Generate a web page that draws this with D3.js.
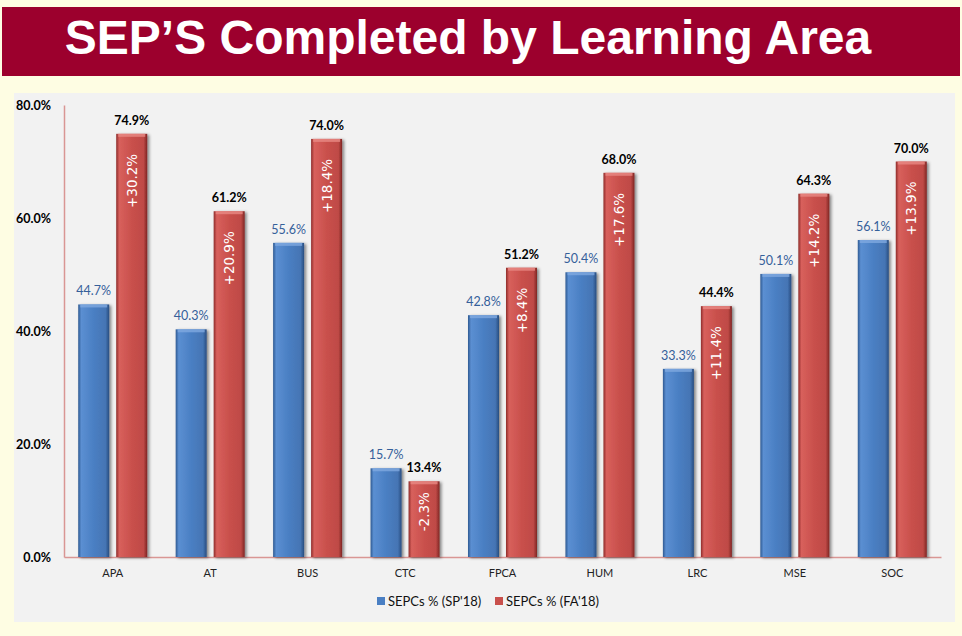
<!DOCTYPE html>
<html>
<head>
<meta charset="utf-8">
<script src="https://cdn.jsdelivr.net/npm/d3@7"></script>
<style>
  body { margin: 0; background: #fefde3; }
  svg { display: block; }
</style>
</head>
<body>
<svg id="main-svg" width="962" height="636"></svg>
<script>
var categories = ["APA", "AT", "BUS", "CTC", "FPCA", "HUM", "LRC", "MSE", "SOC"];
var sp18 = [44.7, 40.3, 55.6, 15.7, 42.8, 50.4, 33.3, 50.1, 56.1];
var fa18 = [74.9, 61.2, 74.0, 13.4, 51.2, 68.0, 44.4, 64.3, 70.0];
var change = ["+30.2%", "+20.9%", "+18.4%", "-2.3%", "+8.4%", "+17.6%", "+11.4%", "+14.2%", "+13.9%"];
var yTicks = [0, 20, 40, 60, 80];
var seriesNames = ["SEPCs % (SP'18)", "SEPCs % (FA'18)"];

var svg = d3.select("#main-svg");
var font = "Lato, 'Open Sans', sans-serif";

// page background + title bar
svg.append("rect").attr("width", 962).attr("height", 636).attr("fill", "#fefde3");
svg.append("rect").attr("x", 2).attr("y", 7).attr("width", 958).attr("height", 69).attr("fill", "#9c002d");
svg.append("text")
   .attr("x", 468).attr("y", 54)
   .attr("text-anchor", "middle")
   .style("font-family", "'Liberation Sans', Arial, sans-serif")
   .style("font-weight", "bold")
   .style("font-size", "48px")
   .style("fill", "#fff")
   .text("SEP\u2019S Completed by Learning Area");

// chart panel
svg.append("rect").attr("x", 14).attr("y", 93).attr("width", 941).attr("height", 529).attr("fill", "#f2f2f2");

var defs = svg.append("defs");
function grad(id, stops) {
  var g = defs.append("linearGradient").attr("id", id).attr("x1", "0").attr("x2", "1").attr("y1", "0").attr("y2", "0");
  stops.forEach(function(s){ g.append("stop").attr("offset", s[0]).attr("stop-color", s[1]); });
}
grad("gBlue", [["0", "#2f5a92"], ["0.1", "#5b8fd2"], ["0.5", "#4a7fc3"], ["0.88", "#4575b4"], ["1", "#284d80"]]);
grad("gRed", [["0", "#8e2c2a"], ["0.1", "#d8605c"], ["0.5", "#c9504c"], ["0.88", "#bf4a46"], ["1", "#7f2523"]]);
var sh = defs.append("filter").attr("id", "shadow").attr("x", "-30%").attr("y", "-10%").attr("width", "160%").attr("height", "120%");
sh.append("feDropShadow").attr("dx", 2).attr("dy", 1).attr("stdDeviation", 1.5).attr("flood-color", "#000").attr("flood-opacity", 0.45);

var x = d3.scaleBand().domain(categories).range([64, 941]);
var y = d3.scaleLinear().domain([0, 80]).range([557, 105]);
var barW = 31, gap = 7;

// axes
var yAxis = svg.append("g").attr("transform", "translate(64,0)")
   .call(d3.axisLeft(y).tickValues(yTicks).tickSize(0).tickPadding(13).tickFormat(function(d){ return d.toFixed(1) + "%"; }));
yAxis.select(".domain").attr("stroke", "#d99694").attr("stroke-width", 1.5);
yAxis.selectAll("text").style("font-family", font).style("font-weight", "bold").style("font-size", "12.5px").style("fill", "#000");

var xAxis = svg.append("g").attr("transform", "translate(0,557)")
   .call(d3.axisBottom(x).tickSize(0).tickPadding(12));
xAxis.select(".domain").attr("stroke", "#d99694").attr("stroke-width", 1.5);
xAxis.selectAll("text").style("font-family", font).style("font-size", "11px").style("fill", "#222");

var rows = categories.map(function(c, i){ return {cat: c, sp: sp18[i], fa: fa18[i], chg: change[i]}; });

function drawBar(g, bx, v, fill, cap) {
  var top = y(v), h = y(0) - y(v);
  g.append("rect").attr("x", bx).attr("y", top).attr("width", barW).attr("height", h)
   .attr("fill", fill).attr("filter", "url(#shadow)");
  g.append("rect").attr("x", bx + 2).attr("y", top).attr("width", barW - 4).attr("height", 3)
   .attr("fill", cap).attr("opacity", 0.8);
}

var groups = svg.append("g").selectAll("g").data(rows).enter().append("g");
groups.each(function(d){
  var g = d3.select(this);
  var c = x(d.cat) + x.bandwidth() / 2;
  var bxB = c - gap / 2 - barW, bxR = c + gap / 2;
  drawBar(g, bxB, d.sp, "url(#gBlue)", "#7fa9e0");
  drawBar(g, bxR, d.fa, "url(#gRed)", "#e88985");

  g.append("text").attr("x", bxB + barW / 2).attr("y", y(d.sp) - 9)
   .attr("text-anchor", "middle")
   .style("font-family", font).style("font-size", "12.5px").style("fill", "#35609a")
   .text(d.sp.toFixed(1) + "%");
  g.append("text").attr("x", bxR + barW / 2).attr("y", y(d.fa) - 9)
   .attr("text-anchor", "middle")
   .style("font-family", font).style("font-weight", "bold").style("font-size", "12.5px").style("fill", "#000")
   .text(d.fa.toFixed(1) + "%");

  var h = y(0) - y(d.fa);
  var off = Math.min(20, h / 7);
  g.append("text")
   .attr("transform", "translate(" + (bxR + barW / 2) + "," + (y(d.fa) + off) + ") rotate(-90)")
   .attr("text-anchor", "end")
   .attr("dominant-baseline", "central")
   .style("font-family", "'DejaVu Sans', sans-serif").style("font-size", "13.5px").style("fill", "#fff")
   .text(d.chg);
});

// legend
var legend = svg.append("g").attr("transform", "translate(377,601)");
var lx = [0, 118];
var lc = ["#4a7fc3", "#c9504c"];
seriesNames.forEach(function(n, i){
  legend.append("rect").attr("x", lx[i]).attr("y", -4).attr("width", 8).attr("height", 8).attr("fill", lc[i]);
  legend.append("text").attr("x", lx[i] + 11).attr("y", 4.5)
    .style("font-family", font).style("font-size", "13px").style("fill", "#111").text(n);
});
</script>
</body>
</html>
